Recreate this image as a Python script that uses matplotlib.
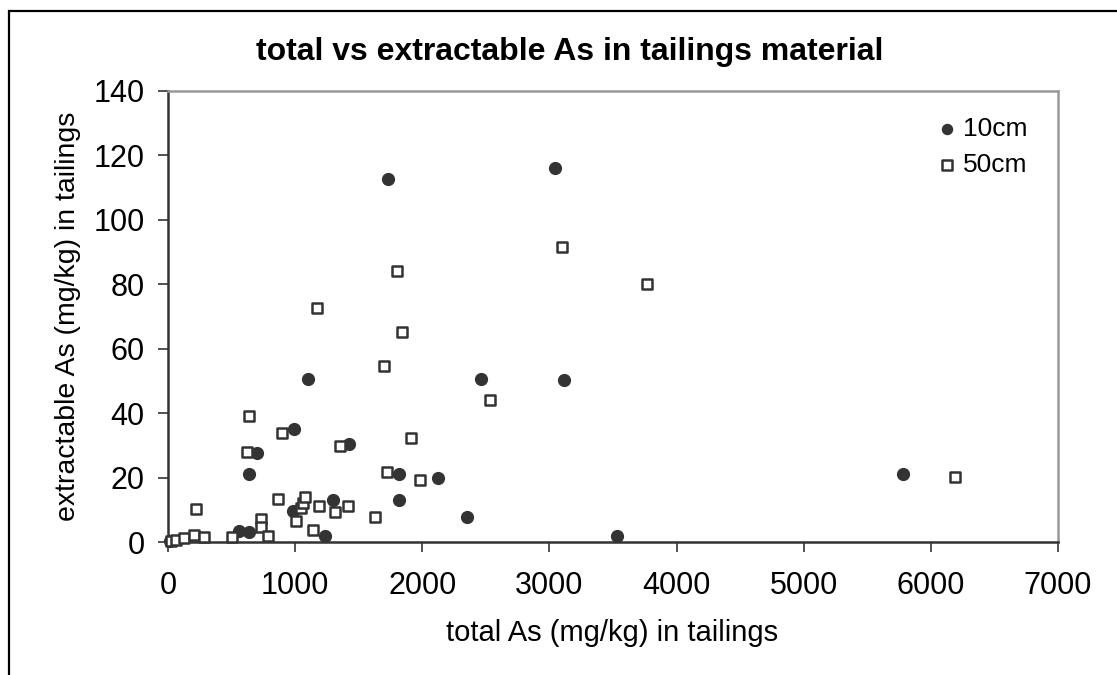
import numpy as np
import matplotlib
matplotlib.use("Agg")
import matplotlib.pyplot as plt
from matplotlib.patches import Rectangle

plt.rcParams['font.family'] = ['Liberation Sans', 'DejaVu Sans']

# 10cm depth: total As vs extractable As (mg/kg)
total_10 = [15, 561, 634, 634, 701, 993, 987, 1105, 1234, 1296, 1425, 1733,
            1817, 1817, 2126, 2350, 2462, 3045, 3113, 3533, 5782]
extr_10 = [0.3, 3.3, 3.2, 21.2, 27.5, 35.2, 9.6, 50.7, 2.0, 13.0, 30.4, 112.7,
           21.2, 13.1, 20.0, 7.9, 50.7, 116.2, 50.2, 2.0, 21.2]

# 50cm depth
total_50 = [22, 60, 123, 202, 219, 280, 505, 623, 634, 735, 735, 785, 864, 897,
            1010, 1043, 1060, 1075, 1139, 1172, 1189, 1312, 1352, 1413, 1626,
            1699, 1722, 1800, 1840, 1912, 1980, 2529, 3096, 3769, 6186]
extr_50 = [0.4, 0.7, 1.3, 2.3, 10.1, 1.6, 1.7, 28.0, 39.1, 7.2, 4.8, 2.0, 13.5,
           33.9, 6.5, 10.5, 12.2, 14.0, 3.7, 72.6, 11.3, 9.3, 29.9, 11.3, 7.7,
           54.7, 21.8, 84.2, 65.2, 32.2, 19.4, 44.2, 91.7, 80.1, 20.2]

W, H = 1117, 675
fig = plt.figure(figsize=(W / 100, H / 100), dpi=100)

# outer chart border (cut off on the right and bottom)
fig.patches.append(Rectangle((9 / W, -0.1), 1.2, 1 - 11 / H + 0.1,
                             transform=fig.transFigure, fill=False,
                             edgecolor='black', linewidth=1.6))

ax = fig.add_axes([168 / W, 1 - 542 / H, (1058 - 168) / W, (542 - 91) / H])

mk = '#333333'
ax.scatter(total_10, extr_10, s=72, marker='o', color=mk, label='10cm',
           zorder=3, clip_on=False)
ax.scatter(total_50, extr_50, s=62, marker='s', facecolor='white',
           edgecolor=mk, linewidth=1.8, label='50cm', zorder=3, clip_on=False)

ax.set_xlim(0, 7000)
ax.set_ylim(0, 140)
ax.set_xticks(np.arange(0, 7001, 1000))
ax.set_yticks(np.arange(0, 141, 20))
ax.tick_params(labelsize=22, direction='out', length=7, width=1.2,
               color='#333333')
ax.tick_params(axis='x', pad=14)
ax.tick_params(axis='y', pad=10)

for s in ['top', 'right']:
    ax.spines[s].set_color('#999999')
    ax.spines[s].set_linewidth(1.8)
for s in ['left', 'bottom']:
    ax.spines[s].set_color('#333333')
    ax.spines[s].set_linewidth(1.8)

ax.set_xlabel('total As (mg/kg) in tailings', fontsize=21)
ax.set_ylabel('extractable As (mg/kg) in tailings', fontsize=20.5)
ax.xaxis.set_label_coords((612 - 168) / 890, (542 - 633) / 451)
ax.xaxis.label.set_va('center')
ax.yaxis.set_label_coords((68 - 168) / 890, 0.5)
ax.yaxis.label.set_va('center')

fig.text(570 / W, 1 - 52 / H, 'total vs extractable As in tailings material',
         fontsize=23, fontweight='bold', ha='center', va='center')

ax.legend(loc='upper left', bbox_to_anchor=(921 / W, 1 - 104 / H),
          bbox_transform=fig.transFigure, frameon=False, fontsize=19,
          handletextpad=0.1, labelspacing=0.45, markerscale=0.85,
          borderpad=0, handlelength=1.0)

fig.savefig('out.png', dpi=100)
